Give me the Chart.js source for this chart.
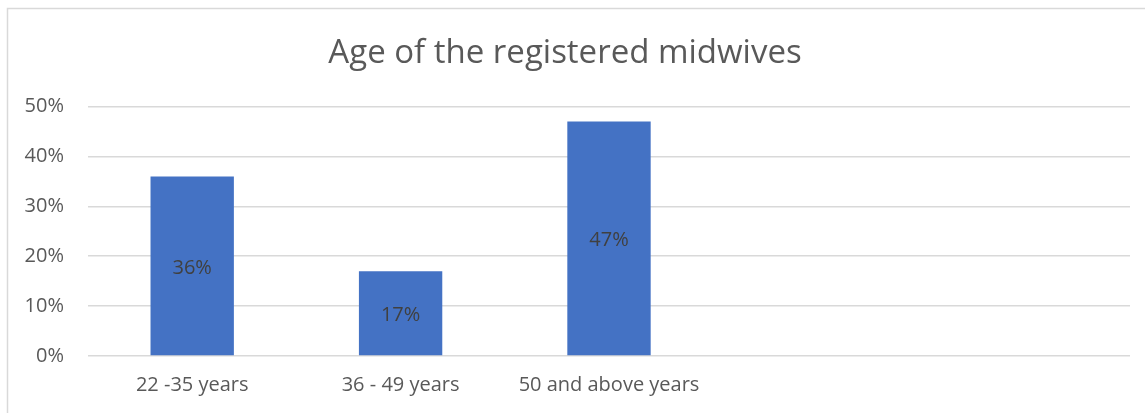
<!DOCTYPE html>
<html>
<head>
<meta charset="utf-8">
<script src="https://cdn.jsdelivr.net/npm/chart.js@4/dist/chart.umd.min.js"></script>
<style>
  html, body { margin: 0; padding: 0; background: #fff; }
  #wrap { width: 1145px; height: 413px; position: relative; }
</style>
</head>
<body>
<div id="wrap"><canvas id="grafico"></canvas></div>
<script>
const categorias = ['22 -35 years', '36 - 49 years', '50 and above years', '', ''];
const porcentajes = [36, 17, 47, null, null];
const ticksY = [0, 10, 20, 30, 40, 50];

const fuente = "'Open Sans', 'Noto Sans', sans-serif";

// marco gris alrededor del gráfico
const marco = {
  id: 'marco',
  beforeDraw(chart) {
    const ctx = chart.ctx;
    ctx.save();
    ctx.strokeStyle = '#d9d9d9';
    ctx.lineWidth = 1.5;
    ctx.strokeRect(7.5, 8.5, chart.width + 20, chart.height + 20);
    ctx.restore();
  }
};

// etiquetas de valor centradas en cada barra
const etiquetas = {
  id: 'etiquetas',
  afterDatasetsDraw(chart) {
    const ctx = chart.ctx;
    const meta = chart.getDatasetMeta(0);
    ctx.save();
    ctx.font = '20px ' + fuente;
    ctx.fillStyle = '#404040';
    ctx.textAlign = 'center';
    ctx.textBaseline = 'middle';
    meta.data.forEach((bar, i) => {
      const v = porcentajes[i];
      if (v == null) return;
      ctx.fillText(v + '%', bar.x, (bar.y + bar.base) / 2 + 2);
    });
    ctx.restore();
  }
};

new Chart(document.getElementById('grafico'), {
  type: 'bar',
  data: {
    labels: categorias,
    datasets: [{
      data: porcentajes,
      backgroundColor: '#4472C4',
      categoryPercentage: 1,
      barPercentage: 0.4
    }]
  },
  options: {
    responsive: true,
    maintainAspectRatio: false,
    animation: false,
    layout: { padding: { left: 0, right: 15, top: 0, bottom: 0 } },
    plugins: {
      legend: { display: false },
      tooltip: { enabled: false },
      title: {
        display: true,
        text: 'Age of the registered midwives',
        color: '#595959',
        font: { family: fuente, size: 33, weight: 'normal', lineHeight: 1.2 },
        padding: { top: 34, bottom: 33 }
      }
    },
    scales: {
      x: {
        grid: { display: false, drawTicks: false },
        border: { display: false },
        ticks: { color: '#595959', font: { family: fuente, size: 20 }, padding: 17, maxRotation: 0 },
        afterFit(scale) { scale.height = 57; }
      },
      y: {
        min: 0,
        max: 50,
        afterBuildTicks(scale) { scale.ticks = ticksY.map(v => ({ value: v })); },
        grid: { color: '#d9d9d9', lineWidth: 1.5, drawTicks: false },
        border: { display: false },
        ticks: {
          color: '#595959',
          font: { family: fuente, size: 20 },
          padding: 24,
          callback: v => v + '%'
        },
        afterFit(scale) { scale.width = 88; }
      }
    }
  },
  plugins: [marco, etiquetas]
});
</script>
</body>
</html>
